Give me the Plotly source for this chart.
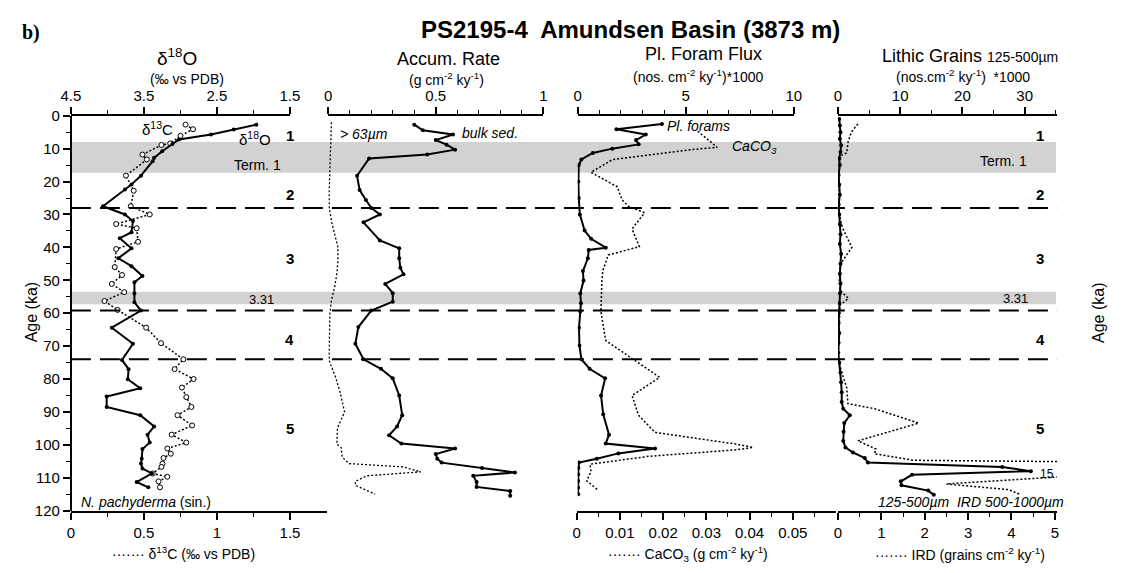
import plotly.graph_objects as go

W, H = 1123, 573
def X(px): return px / W
def Y(py): return 1 - py / H

# ---------------- data (age in ka) ----------------
d18o_age = [2.7, 4.2, 5.7, 7.2, 8.6, 10.8, 12.8, 13.8, 18.2, 20.9, 22.4, 27.5, 30.0, 32.0, 35.4, 37.2, 40.3,
            43.3, 45.7, 48.7, 50.6, 54.0, 56.7, 59.2, 64.4, 69.3, 74.2, 77.0, 80.1, 82.8, 85.3, 88.5, 91.0,
            94.4, 96.9, 99.3, 101.3, 104.2, 105.7, 107.2, 108.7, 111.3, 112.9]
d18o_val = [1.96, 2.27, 2.58, 3.02, 3.11, 3.25, 3.36, 3.38, 3.54, 3.67, 3.76, 4.06, 3.76, 3.65, 3.67, 3.83, 3.67,
            3.85, 3.67, 3.52, 3.63, 3.63, 3.63, 3.54, 3.94, 3.65, 3.80, 3.71, 3.72, 3.55, 4.01, 4.01, 3.55,
            3.36, 3.45, 3.42, 3.52, 3.53, 3.54, 3.52, 3.39, 3.60, 3.44]

d13c_age = [2.7, 4.1, 6.1, 8.4, 8.9, 11.8, 13.3, 18.2, 22.8, 27.5, 30.0, 32.9, 34.2, 38.3, 40.5, 46.0, 48.4, 51.1,
            53.6, 56.3, 59.0, 64.4, 69.1, 74.0, 77.0, 80.0, 82.6, 85.5, 88.5, 91.0, 94.1, 96.9, 99.3, 101.1,
            102.7, 104.0, 105.7, 106.7, 108.7, 109.7, 111.1, 112.9]
d13c_val = [0.785, 0.836, 0.75, 0.68, 0.62, 0.49, 0.52, 0.377, 0.43, 0.41, 0.54, 0.31, 0.45, 0.46, 0.31, 0.30, 0.35,
            0.28, 0.365, 0.23, 0.32, 0.515, 0.617, 0.77, 0.71, 0.84, 0.76, 0.79, 0.825, 0.73, 0.83, 0.69, 0.79,
            0.66, 0.684, 0.634, 0.627, 0.62, 0.56, 0.66, 0.60, 0.61]

bulk_age = [2.7, 4.4, 5.7, 7.4, 8.8, 10.3, 11.8, 13.0, 18.2, 22.6, 25.6, 28.0, 30.0, 32.4, 37.9, 40.3, 43.3, 46.2,
            48.2, 51.1, 53.9, 56.5, 59.2, 64.2, 69.3, 74.0, 76.9, 79.8, 85.0, 91.0, 94.4, 97.1, 99.6, 101.1,
            102.8, 104.2, 105.4, 107.0, 108.4, 109.4, 111.3, 112.8, 114.0, 115.5]
bulk_val = [0.40, 0.44, 0.58, 0.50, 0.55, 0.59, 0.46, 0.19, 0.134, 0.146, 0.175, 0.20, 0.24, 0.164, 0.24, 0.33,
            0.33, 0.335, 0.35, 0.265, 0.30, 0.30, 0.20, 0.14, 0.126, 0.164, 0.245, 0.30, 0.33, 0.344, 0.32, 0.283,
            0.34, 0.59, 0.50, 0.507, 0.527, 0.715, 0.868, 0.674, 0.69, 0.69, 0.846, 0.846]

coarse_age = [2, 5, 8, 11, 14, 18, 24, 28, 32, 36, 40, 44, 48, 52, 56, 60, 66, 72, 74.5, 79.6, 84, 88.5, 90.0,
              94.9, 99.8, 100.8, 103.7, 105.7, 106.7, 108.2, 109.4, 111.1, 112.3, 115.0]
coarse_val = [0.015, 0.015, 0.012, 0.01, 0.008, 0.006, 0.004, 0.005, 0.015, 0.03, 0.045, 0.045, 0.04, 0.03, 0.015,
              0.008, 0.005, 0.004, 0.005, 0.035, 0.055, 0.073, 0.076, 0.043, 0.04, 0.06, 0.065, 0.096, 0.347,
              0.43, 0.18, 0.126, 0.126, 0.218]

pf_age = [2.5, 4.1, 5.7, 7.4, 8.7, 10.0, 11.3, 13.3, 15.0, 20, 25, 30, 34.9, 37.4, 40.1, 40.8, 43.3, 47.2, 50.1,
          54.0, 57.0, 59.5, 64.4, 69.8, 74.0, 76.9, 79.8, 85.0, 90.7, 96.9, 99.6, 101.1, 102.6, 104.2, 105.4,
          107, 109, 111, 113, 115]
pf_val = [3.9, 1.79, 3.15, 2.7, 2.82, 1.6, 0.7, 0.17, 0.05, 0.03, 0.05, 0.1, 0.32, 0.62, 1.3, 0.51, 0.47, 0.24,
          0.27, 0.12, 0.15, 0.12, 0.06, 0.08, 0.17, 0.55, 1.27, 1.08, 1.18, 1.45, 1.3, 3.58, 1.88, 0.88, 0.06,
          0.03, 0.02, 0.02, 0.02, 0.02]

caco3_age = [4.7, 9.6, 10.3, 11.6, 12.3, 13.3, 17.2, 21.6, 25.6, 27.5, 29.5, 34.4, 39.8, 42.3, 47.2, 51.0, 59.5,
             68.3, 72.8, 79.5, 85.0, 91.0, 96.2, 99.8, 100.8, 101.5, 103.5, 105.9, 108.2, 110.9, 113.6]
caco3_val = [0.028, 0.0325, 0.0264, 0.0189, 0.0136, 0.0083, 0.0033, 0.0094, 0.0105, 0.012, 0.0157, 0.0128,
             0.0145, 0.0073, 0.006, 0.0058, 0.0056, 0.0067, 0.0117, 0.0192, 0.0128, 0.0143, 0.0181, 0.037,
             0.0408, 0.037, 0.0166, 0.0031, 0.0033, 0.0023, 0.0048]

lith_age = [1, 3, 5, 7, 9, 11, 13, 15, 18, 21, 24, 27, 30, 33, 36, 39, 42, 45, 48, 51, 54, 57, 60, 63, 66, 69,
            72, 75, 78, 81, 84, 87, 89, 91, 93.4, 96, 98.8, 100.8, 102.3, 104.0, 105.4, 106.7, 108.0, 109.1,
            111.1, 112.3, 113.9, 115.2]
lith_val = [0.2, 0.3, 0.4, 0.3, 0.5, 0.4, 0.2, 0.3, 0.1, 0.2, 0.3, 0.1, 0.2, 0.3, 0.4, 0.3, 0.5, 0.4, 0.3, 0.4,
            0.3, 0.2, 0.1, 0.1, 0.2, 0.1, 0.05, 0.2, 0.4, 0.5, 0.6, 0.6, 0.84, 1.9, 1.0, 0.9, 0.84, 1.2, 2.4,
            4.3, 4.8, 26.4, 31.0, 11.9, 10.1, 10.2, 14.5, 15.4]

ird_age = [2.5, 4.9, 7.9, 11.3, 12.0, 14, 20, 26, 30, 34, 38, 40, 42.3, 45, 50, 53, 55.5, 57.5, 60, 65, 70, 74,
           77.7, 82.6, 87.5, 89.0, 93.4, 98.8, 101.3, 102.7, 104.7, 105.2, 107.5, 109.0, 111.9, 113.6, 115.0]
ird_val = [0.46, 0.31, 0.235, 0.2, 0.08, 0.03, 0.02, 0.02, 0.03, 0.1, 0.25, 0.32, 0.2, 0.06, 0.03, 0.05, 0.24,
           0.05, 0.04, 0.02, 0.01, 0.01, 0.08, 0.2, 0.23, 0.84, 1.86, 0.46, 0.88, 0.84, 1.74, 6.0, 15, 6.0,
           2.5, 3.93, 4.19]

terminations = [(8.0, 17.3), (53.5, 57.3)]
boundaries = [28.0, 59.2, 74.0]
stage_labels = ["1", "2", "3", "4", "5"]
stage_ages = [6.0, 24.0, 43.5, 68.0, 95.0]

FONT = "Liberation Sans, Arial, Helvetica, sans-serif"
BLACK = "black"

fig = go.Figure()

solid = dict(color=BLACK, width=2)
dotted = dict(color=BLACK, width=1.5, dash="2px,2px")

fig.add_trace(go.Scatter(x=d18o_val, y=d18o_age, xaxis="x2", yaxis="y", mode="lines+markers",
                         line=solid, marker=dict(size=4, color=BLACK), showlegend=False))
fig.add_trace(go.Scatter(x=d13c_val, y=d13c_age, xaxis="x", yaxis="y", mode="lines+markers",
                         line=dotted, marker=dict(size=5, color="white", line=dict(color=BLACK, width=1)),
                         showlegend=False))
fig.add_trace(go.Scatter(x=coarse_val, y=coarse_age, xaxis="x3", yaxis="y", mode="lines",
                         line=dict(color=BLACK, width=1.3, dash="2px,2px"), showlegend=False))
fig.add_trace(go.Scatter(x=bulk_val, y=bulk_age, xaxis="x3", yaxis="y", mode="lines+markers",
                         line=solid, marker=dict(size=4, color=BLACK), showlegend=False))
fig.add_trace(go.Scatter(x=caco3_val, y=caco3_age, xaxis="x6", yaxis="y", mode="lines",
                         line=dotted, showlegend=False))
fig.add_trace(go.Scatter(x=pf_val, y=pf_age, xaxis="x5", yaxis="y", mode="lines+markers",
                         line=solid, marker=dict(size=4, color=BLACK), showlegend=False))
fig.add_trace(go.Scatter(x=ird_val, y=ird_age, xaxis="x8", yaxis="y", mode="lines",
                         line=dotted, showlegend=False))
fig.add_trace(go.Scatter(x=lith_val, y=lith_age, xaxis="x7", yaxis="y", mode="lines+markers",
                         line=solid, marker=dict(size=4, color=BLACK), showlegend=False))

tickfont = dict(family=FONT, size=15, color=BLACK)
ydom = [Y(517), Y(110)]
ages_major = list(range(0, 121, 10))
ages_minor = list(range(5, 120, 10))

def yax(pos, side="left", labels=False, overlay=True):
    d = dict(domain=ydom, range=[120, 0], anchor="free", position=pos, side=side,
             showline=True, linecolor=BLACK, linewidth=2, ticks="outside", ticklen=7, tickwidth=1.5,
             tickcolor=BLACK, tickmode="array", tickvals=ages_major, showticklabels=labels,
             tickfont=tickfont, showgrid=False, zeroline=False,
             minor=dict(tickmode="array", tickvals=ages_minor, ticks="outside", ticklen=4,
                        tickwidth=1.2, tickcolor=BLACK, showgrid=False))
    if overlay:
        d["overlaying"] = "y"
    return d

def xax(dom, rng, side, tv, tt, minor_vals, show=True):
    return dict(domain=[X(dom[0]), X(dom[1])], range=rng, anchor="y", side=side, showline=True,
                linecolor=BLACK, linewidth=2, ticks="outside" if show else "", ticklen=7, tickwidth=1.5,
                tickcolor=BLACK, tickmode="array", tickvals=tv, ticktext=tt, showticklabels=show,
                tickfont=tickfont, showgrid=False, zeroline=False,
                minor=dict(tickmode="array", tickvals=minor_vals, ticks="outside" if show else "",
                           ticklen=4, tickwidth=1.2, tickcolor=BLACK, showgrid=False))

layout = dict(
    width=W, height=H, margin=dict(l=0, r=0, t=0, b=0), paper_bgcolor="white", plot_bgcolor="rgba(0,0,0,0)",
    font=dict(family=FONT, color=BLACK), showlegend=False,
    yaxis=yax(X(62), labels=True, overlay=False),
    yaxis2=yax(X(323)),
    yaxis3=yax(X(578)),
    yaxis4=yax(X(842)),
    yaxis5=yax(X(1066), side="right", labels=True),
    xaxis=xax((62, 323), [0, 1.755], "bottom", [0, 0.5, 1, 1.5], ["0", "0.5", "1", "1.5"],
              [0.25, 0.75, 1.25]),
    xaxis2=xax((62, 285), [4.5, 1.5], "top", [4.5, 3.5, 2.5, 1.5], ["4.5", "3.5", "2.5", "1.5"],
               [4.0, 3.0, 2.0]),
    xaxis3=xax((324, 543), [0, 1], "top", [0, 0.5, 1], ["0", "0.5", "1"],
               [0.1, 0.2, 0.3, 0.4, 0.6, 0.7, 0.8, 0.9]),
    xaxis4=xax((323, 578), [0, 1], "bottom", [], [], [], show=False),
    xaxis5=xax((578, 798), [0, 10], "top", [0, 5, 10], ["0", "5", "10"], [1, 2, 3, 4, 6, 7, 8, 9]),
    xaxis6=xax((577, 841), [0, 0.06], "bottom", [0, 0.01, 0.02, 0.03, 0.04, 0.05],
               ["0", "0.01", "0.02", "0.03", "0.04", "0.05"], [0.005, 0.015, 0.025, 0.035, 0.045, 0.055]),
    xaxis7=xax((843, 1066), [0, 35.2], "top", [0, 10, 20, 30], ["0", "10", "20", "30"], [5, 15, 25, 35]),
    xaxis8=xax((843, 1066), [0, 5.05], "bottom", [0, 1, 2, 3, 4, 5], ["0", "1", "2", "3", "4", "5"],
               [0.5, 1.5, 2.5, 3.5, 4.5]),
)
fig.update_layout(**layout)

shapes = []
for a0, a1 in terminations:
    shapes.append(dict(type="rect", xref="paper", yref="y", x0=X(63), x1=X(1065), y0=a0, y1=a1,
                       fillcolor="#d2d2d2", line=dict(width=0), layer="below"))
for b in boundaries:
    shapes.append(dict(type="line", xref="paper", yref="y", x0=X(62), x1=X(1066), y0=b, y1=b,
                       line=dict(color=BLACK, width=2, dash="20px,9px"), layer="above"))
fig.update_layout(shapes=shapes)

ann = []
def A(text, x, y, size=15, yref="paper", xanchor="center", yanchor="middle", **kw):
    ann.append(dict(text=text, x=x, y=y, xref="paper", yref=yref, showarrow=False, xanchor=xanchor,
                    yanchor=yanchor, font=dict(family=kw.pop("family", FONT), size=size, color=BLACK), **kw))

A("<b>PS2195-4  Amundsen Basin (3873 m)</b>", X(632), Y(21), size=24)
A("<b>b)</b>", X(10), Y(24), size=20, xanchor="left", family="Liberation Serif, Times New Roman, serif")

# panel headers (bottom anchored)
A("δ<sup>18</sup>O", X(170), Y(64), size=19, yanchor="bottom")
A("(‰ vs PDB)", X(180), Y(82), size=14, yanchor="bottom")
A("Accum. Rate", X(446), Y(64), size=18, yanchor="bottom")
A("(g cm<sup>-2</sup> ky<sup>-1</sup>)", X(444), Y(83), size=14, yanchor="bottom")
A("Pl. Foram Flux", X(706), Y(59), size=18, yanchor="bottom")
A("(nos. cm<sup>-2</sup> ky<sup>-1</sup>)*1000", X(700), Y(80), size=14, yanchor="bottom")
A("Lithic Grains <span style='font-size:14px'>125-500µm</span>", X(977), Y(61), size=18, yanchor="bottom")
A("(nos.cm<sup>-2</sup> ky<sup>-1</sup>)  *1000", X(970), Y(80), size=14, yanchor="bottom")

A("······· δ<sup>13</sup>C (‰ vs PDB)", X(177), Y(561), size=14)
A("······· CaCO<sub>3</sub> (g cm<sup>-2</sup> ky<sup>-1</sup>)", X(690), Y(562), size=14)
A("······· IRD (grains cm<sup>-2</sup> ky<sup>-1</sup>)", X(967), Y(562), size=14)

A("Age (ka)", X(22), Y(313), size=16, textangle=-90)
A("Age (ka)", X(1108), Y(313), size=16, textangle=-90)

for lab, age in zip(stage_labels, stage_ages):
    A("<b>%s</b>" % lab, X(285), age, size=15, yref="y")
    A("<b>%s</b>" % lab, X(1049), age, size=15, yref="y")
A("Term. 1", X(252), 15.0, size=14, yref="y")
A("Term. 1", X(1012), 13.9, size=14, yref="y")
A("3.31", X(256), 55.9, size=13, yref="y")
A("3.31", X(1024), 55.4, size=13, yref="y")

A("δ<sup>13</sup>C", X(150), 4.0, size=15, yref="y")
A("δ<sup>18</sup>O", X(249), 7.0, size=15, yref="y")
A("<i>N. pachyderma</i> (sin.)", X(70), 117.5, size=14, yref="y", xanchor="left")
A("<i>> 63µm</i>", X(334), 5.5, size=14, yref="y", xanchor="left")
A("<i>bulk sed.</i>", X(458), 5.3, size=14, yref="y", xanchor="left")
A("<i>Pl. forams</i>", X(667), 3.0, size=14, yref="y", xanchor="left")
A("<i>CaCO<sub>3</sub></i>", X(733), 9.5, size=14, yref="y", xanchor="left")
A("<i>125-500µm  IRD 500-1000µm</i>", X(1075), 117.5, size=14, yref="y", xanchor="right")
A("15", X(1056), 109.0, size=12, yref="y")

fig.update_layout(annotations=ann)
fig.write_html("out.html")
